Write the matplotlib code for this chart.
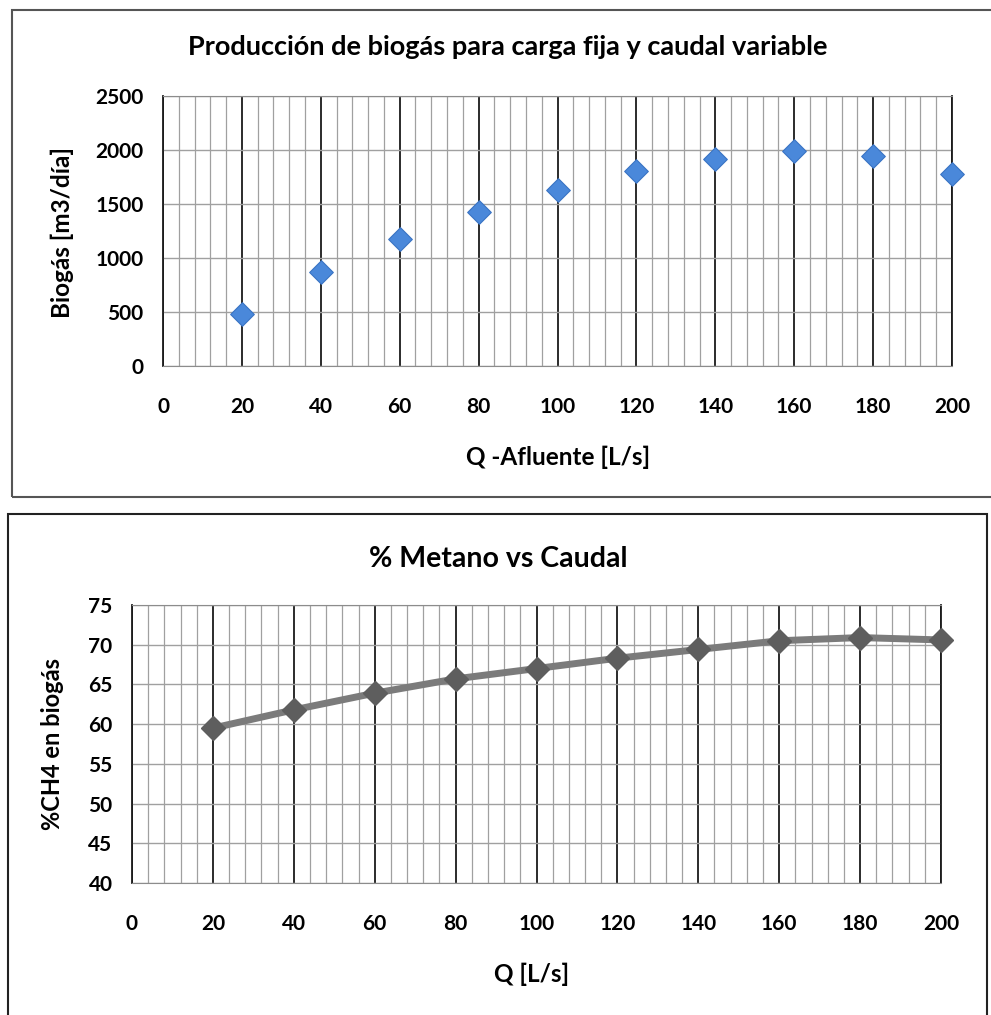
import matplotlib.pyplot as plt
from matplotlib.patches import Rectangle
from matplotlib.ticker import MultipleLocator

plt.rcParams['font.family'] = ['Lato', 'DejaVu Sans']
plt.rcParams['font.weight'] = 'bold'

# datos
caudal = [20, 40, 60, 80, 100, 120, 140, 160, 180, 200]
biogas = [485, 866, 1176, 1423, 1634, 1804, 1915, 1989, 1940, 1780]
metano = [59.5, 61.8, 63.9, 65.7, 67.0, 68.3, 69.4, 70.5, 70.9, 70.6]

W, H = 991, 1015
fig = plt.figure(figsize=(W / 100, H / 100), dpi=100)


def fx(px):
    return px / W


def fy(py):
    return 1 - py / H


def frame_box(x0, y0, x1, y1, color):
    fig.patches.append(Rectangle((fx(x0), fy(y1)), fx(x1 - x0), (y1 - y0) / H,
                                 transform=fig.transFigure, fill=False,
                                 edgecolor=color, linewidth=1.5))


def style_grid(ax, ymajor):
    ax.xaxis.set_major_locator(MultipleLocator(20))
    ax.xaxis.set_minor_locator(MultipleLocator(4))
    ax.yaxis.set_major_locator(MultipleLocator(ymajor))
    ax.grid(which='major', axis='x', color='#1a1a1a', linewidth=1.3)
    ax.grid(which='minor', axis='x', color='#a0a0a0', linewidth=0.9)
    ax.grid(which='major', axis='y', color='#a0a0a0', linewidth=1.0)
    ax.set_axisbelow(True)
    ax.tick_params(which='both', length=0, labelsize=15)
    ax.tick_params(axis='x', pad=22)
    ax.tick_params(axis='y', pad=14)
    for s in ['top', 'bottom']:
        ax.spines[s].set_color('#8c8c8c')
    for s in ['left', 'right']:
        ax.spines[s].set_color('#1a1a1a')
        ax.spines[s].set_linewidth(1.3)


# marcos de cada grafico
frame_box(12, 10, 1000, 497, '#555555')
frame_box(8, 514, 987, 1030, '#222222')

# --- grafico 1 ---
ax1 = fig.add_axes([fx(163), fy(366), fx(952 - 163), (366 - 96) / H])
ax1.scatter(caudal, biogas, marker='D', s=145, color='#4a88da',
            edgecolors='#3a74c4', linewidths=0.8, zorder=3, clip_on=False)
ax1.set_xlim(0, 200)
ax1.set_ylim(0, 2500)
style_grid(ax1, 500)
fig.text(fx(508), fy(47), 'Producción de biogás para carga fija y caudal variable',
         ha='center', va='center', fontsize=19.5, fontweight='bold')
fig.text(fx(558), fy(457), 'Q -Afluente [L/s]', ha='center', va='center',
         fontsize=17.5, fontweight='bold')
fig.text(fx(62), fy(232), 'Biogás [m3/día]', ha='center', va='center',
         rotation=90, fontsize=17.5, fontweight='bold')

# --- grafico 2 ---
ax2 = fig.add_axes([fx(132), fy(883), fx(941 - 132), (883 - 605) / H])
ax2.plot(caudal, metano, color='#7b7b7b', linewidth=5, zorder=3, clip_on=False)
ax2.plot(caudal, metano, linestyle='none', marker='D', markersize=12,
         color='#5e5e5e', zorder=4, clip_on=False)
ax2.set_xlim(0, 200)
ax2.set_ylim(40, 75)
style_grid(ax2, 5)
fig.text(fx(498), fy(559), '% Metano vs Caudal', ha='center', va='center',
         fontsize=20.5, fontweight='bold')
fig.text(fx(532), fy(974), 'Q [L/s]', ha='center', va='center',
         fontsize=17.5, fontweight='bold')
fig.text(fx(53), fy(744), '%CH4 en biogás', ha='center', va='center',
         rotation=90, fontsize=17, fontweight='bold')

fig.savefig('out.png', dpi=100, facecolor='white')
